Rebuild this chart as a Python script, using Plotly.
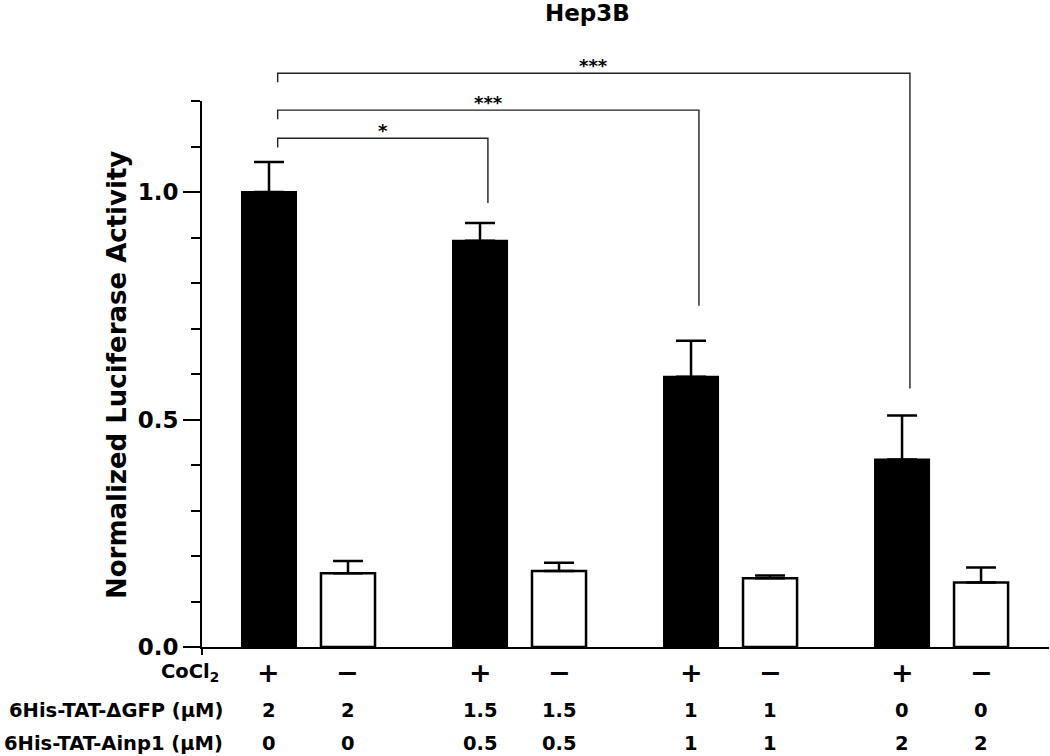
import plotly.graph_objects as go

# ---------------- data ----------------
title = "Hep3B"
y_title = "Normalized Luciferase Activity"
cocl2 = ["+", "−", "+", "−", "+", "−", "+", "−"]
gfp_um = ["2", "2", "1.5", "1.5", "1", "1", "0", "0"]
ainp1_um = ["0", "0", "0.5", "0.5", "1", "1", "2", "2"]
row_labels = ["CoCl<sub>2</sub>", "6His-TAT-ΔGFP (μM)", "6His-TAT-Ainp1 (μM)"]

cocl2_plus_vals = [1.0, 0.893, 0.594, 0.412]
cocl2_plus_err = [0.066, 0.039, 0.079, 0.097]
cocl2_minus_vals = [0.162, 0.167, 0.151, 0.142]
cocl2_minus_err = [0.027, 0.018, 0.006, 0.033]

# significance brackets: (from bar index, to bar index, label, bracket level, right-leg end)
brackets = [
    (0, 2, "*", 1.118, 0.976),
    (0, 4, "***", 1.180, 0.750),
    (0, 6, "***", 1.261, 0.568),
]

y_ticks = [0.0, 0.5, 1.0]
y_ticktext = ["0.0", "0.5", "1.0"]
y_max = 1.2

# ---------------- layout helpers ----------------
GROUP_STEP = 2.671
PAIR_STEP = 1.0
BAR_W = 0.684
X_RANGE = [-0.848, 9.873]

n_groups = len(cocl2_plus_vals)
x_plus = [g * GROUP_STEP for g in range(n_groups)]
x_minus = [g * GROUP_STEP + PAIR_STEP for g in range(n_groups)]
x_all = []
for g in range(n_groups):
    x_all += [x_plus[g], x_minus[g]]


def xp(x):
    return (x - X_RANGE[0]) / (X_RANGE[1] - X_RANGE[0])


def yp(v):
    return v / y_max


FONT = "DejaVu Sans"

fig = go.Figure()
fig.add_trace(go.Bar(
    x=x_plus, y=cocl2_plus_vals, width=BAR_W,
    marker=dict(color="black", line=dict(color="black", width=2)),
    error_y=dict(type="data", array=cocl2_plus_err, arrayminus=[0] * n_groups,
                 symmetric=False, color="black", thickness=2.5, width=15),
    showlegend=False,
))
fig.add_trace(go.Bar(
    x=x_minus, y=cocl2_minus_vals, width=BAR_W,
    marker=dict(color="white", line=dict(color="black", width=2.5)),
    error_y=dict(type="data", array=cocl2_minus_err, arrayminus=[0] * n_groups,
                 symmetric=False, color="black", thickness=2.5, width=15),
    showlegend=False,
))

shapes = []
annotations = []

# brackets
L_OFF = 0.11
R_OFF = 0.10
TICK = 0.02
for (i0, i1, lab, lvl, leg_end) in brackets:
    xa = xp(x_all[i0] + L_OFF)
    xb = xp(x_all[i1] + R_OFF)
    path = (f"M {xa},{yp(lvl - TICK)} L {xa},{yp(lvl)} L {xb},{yp(lvl)} "
            f"L {xb},{yp(leg_end)}")
    shapes.append(dict(type="path", path=path, xref="paper", yref="paper",
                       line=dict(color="#222222", width=1.4)))
    annotations.append(dict(x=(xa + xb) / 2, y=yp(lvl), xref="paper", yref="paper",
                            text=f"<b>{lab}</b>", showarrow=False,
                            xanchor="center", yanchor="bottom", yshift=-5,
                            font=dict(family=FONT, size=18, color="black")))

# small tick below baseline at y-axis
shapes.append(dict(type="line", xref="paper", yref="paper", x0=0, x1=0,
                   y0=0, y1=-8 / 546, line=dict(color="black", width=2)))

# bottom rows
row_y = [-0.046, -0.117, -0.176]
rows = [cocl2, gfp_um, ainp1_um]
for r, (vals, ylab) in enumerate(zip(rows, row_y)):
    annotations.append(dict(x=xp(-0.61) if r == 0 else xp(-0.56), y=ylab,
                            xref="paper", yref="paper",
                            text=f"<b>{row_labels[r]}</b>", showarrow=False,
                            xanchor="right", yanchor="middle",
                            font=dict(family=FONT, size=19.5, color="black")))
    for xv, t in zip(x_all, vals):
        annotations.append(dict(x=xp(xv), y=ylab, xref="paper", yref="paper",
                                text=f"<b>{t}</b>", showarrow=False,
                                xanchor="center", yanchor="middle",
                                font=dict(family=FONT, size=(27 if r == 0 else 19.5),
                                          color="black")))

# y title
annotations.append(dict(x=-0.1004, y=0.498, xref="paper", yref="paper",
                        text=f"<b>{y_title}</b>", textangle=-90, showarrow=False,
                        xanchor="center", yanchor="middle",
                        font=dict(family=FONT, size=26, color="black")))
# title
annotations.append(dict(x=0.4557, y=1.162, xref="paper", yref="paper",
                        text=f"<b>{title}</b>", showarrow=False,
                        xanchor="center", yanchor="middle",
                        font=dict(family=FONT, size=23, color="black")))

fig.update_layout(
    width=1050, height=756,
    margin=dict(l=202, r=1, t=101, b=109, pad=0),
    paper_bgcolor="white", plot_bgcolor="white",
    barmode="overlay",
    shapes=shapes, annotations=annotations,
    xaxis=dict(range=X_RANGE, showline=True, linecolor="black", linewidth=2,
               showgrid=False, zeroline=False, showticklabels=False, ticks=""),
    yaxis=dict(range=[0, y_max], showline=True, linecolor="black", linewidth=2,
               showgrid=False, zeroline=False,
               tickvals=y_ticks, ticktext=[f"<b>{t}</b>" for t in y_ticktext],
               ticks="outside", ticklen=17, tickwidth=2, tickcolor="black",
               tickfont=dict(family=FONT, size=23, color="black"),
               minor=dict(dtick=0.1, tick0=0, ticks="outside", ticklen=9,
                          tickwidth=2, tickcolor="black", showgrid=False)),
)

fig.write_html(
    "out.html",
    config={"displayModeBar": False},
    post_script="document.body.style.margin='0px';document.body.style.overflow='hidden';",
)
